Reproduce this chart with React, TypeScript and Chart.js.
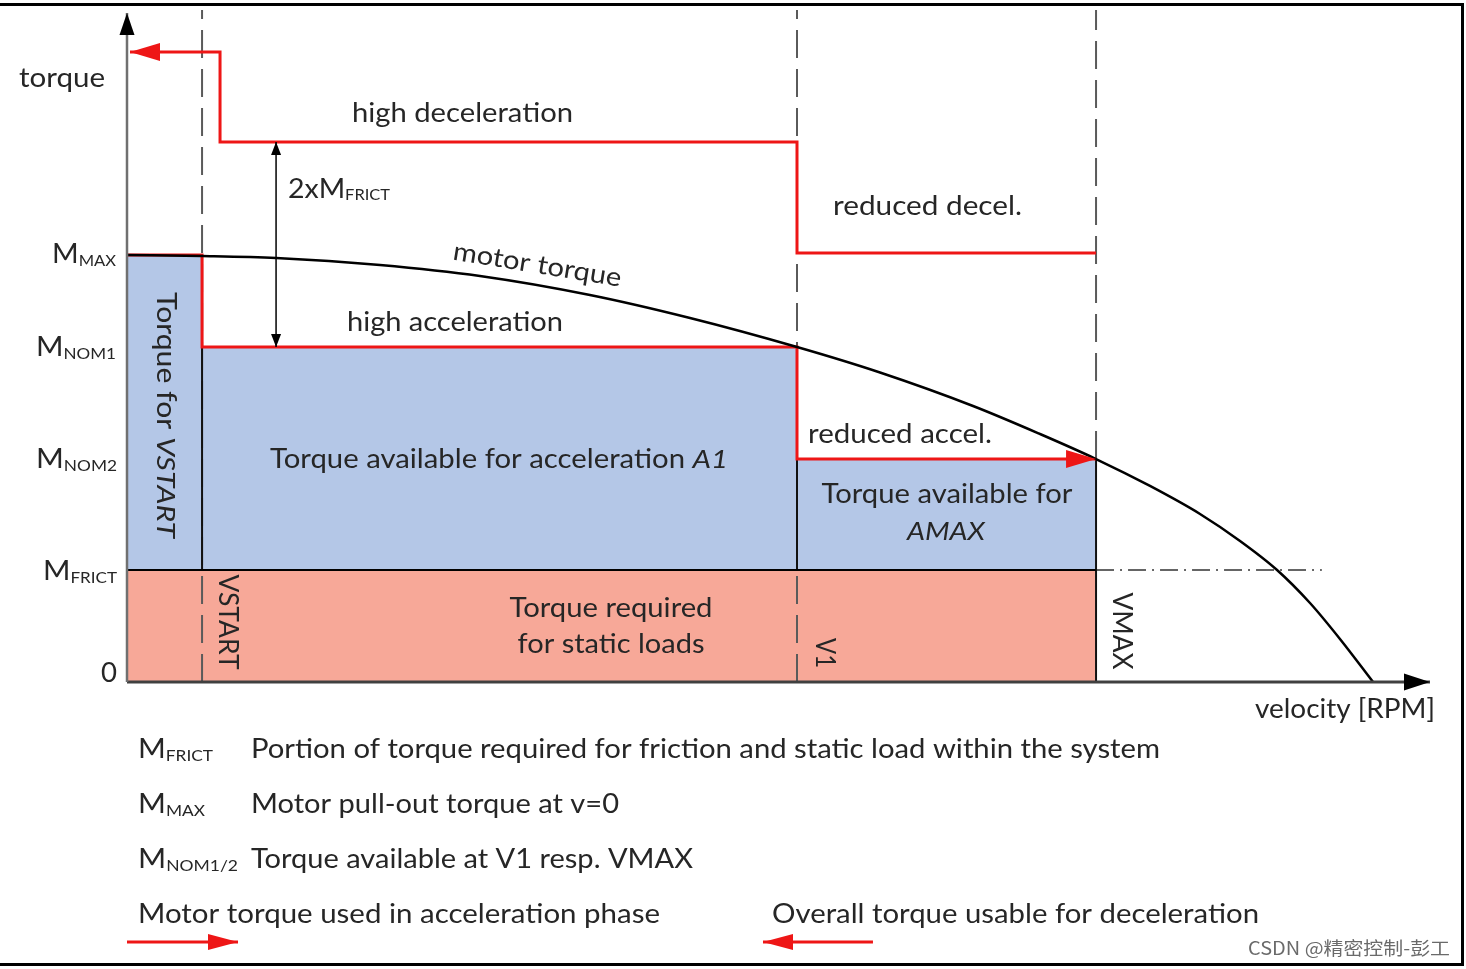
import React, { useEffect, useRef } from "react";
import { Chart, registerables } from "chart.js";

Chart.register(...registerables);

// ---------- data (velocity axis 0..100, torque axis 0..100) ----------
const VSTART = 5.76;
const V1 = 51.42;
const VMAX = 74.37;
const X_AXIS_END = 100;
const Y_AXIS_END = 100.3;
const DASH_TOP = 100.75;
const X_DECEL_STEP = 7.14;
const X_DECEL_TIP = 0.23;
const X_DOUBLE_ARROW = 11.44;
const X_DASHDOT_END = 91.7;

const M_FRICT = 16.8;
const M_NOM2 = 33.43;
const M_NOM1 = 50.22;
const M_MAX = 64.02;
const M_DECEL_HIGH = 80.96;
const M_DECEL_REDUCED = 64.3;
const M_DECEL_TOP = 94.45;

// motor torque curve
const curveVelocity = [0, 5.76, 11.44, 19.42, 27.09, 35.53, 43.21, 51.42, 57.79, 64.93, 70.07, 74.37, 78.51, 82.35, 85.42, 88.26, 90.79, 93.09, 95.63];
const curveTorque = [64.02, 63.87, 63.57, 62.52, 60.87, 58.02, 54.57, 50.22, 46.4, 41.38, 37.18, 33.43, 29.39, 25.19, 21.14, 16.79, 11.84, 6.45, 0];

// legend arrows (below the axis)
const LEGEND_Y = -38.98;
const legendAccelX = [0, 8.52];
const legendDecelX = [57.25, 48.81];

// ---------- styles ----------
const FONT = "Lato, 'DejaVu Sans', sans-serif";
const TEXT_COLOR = "#262626";
const RED = "#EE1616";
const BLUE = "#B4C7E7";
const PINK = "#F7A898";
const DASH_GRAY = "#5a5a5a";

type Pt = { x: number; y: number };
const pts = (xs: number[], ys: number[]): Pt[] => xs.map((x, i) => ({ x, y: ys[i] }));

type Run = { t: string; size?: number; italic?: boolean; dy?: number; family?: string };
type TextItem = {
  runs: Run[];
  x: number;
  y: number;
  align?: "left" | "center" | "right";
  width?: number;
  rotate?: number;
  color?: string;
};

const sub = (t: string, dy = 3): Run => ({ t, size: 15, dy });
const DEG = Math.PI / 180;

const TEXTS: TextItem[] = [
  { runs: [{ t: "torque" }], x: 19, y: 87, width: 86 },
  { runs: [{ t: "M" }, sub("MAX")], x: 116, y: 263, align: "right", width: 64 },
  { runs: [{ t: "M" }, sub("NOM1")], x: 116, y: 356, align: "right", width: 80 },
  { runs: [{ t: "M" }, sub("NOM2")], x: 117, y: 468, align: "right", width: 81 },
  { runs: [{ t: "M" }, sub("FRICT")], x: 117, y: 580, align: "right", width: 74 },
  { runs: [{ t: "0" }], x: 117, y: 682, align: "right", width: 16 },
  { runs: [{ t: "high deceleration" }], x: 352, y: 122, width: 221 },
  { runs: [{ t: "2xM" }, sub("FRICT", 2)], x: 288, y: 198, width: 102 },
  { runs: [{ t: "reduced decel." }], x: 833, y: 215, width: 189 },
  { runs: [{ t: "motor torque" }], x: 536, y: 273, align: "center", width: 170, rotate: 9.2 * DEG },
  { runs: [{ t: "high acceleration" }], x: 347, y: 331, width: 216 },
  { runs: [{ t: "Torque for " }, { t: "VSTART", italic: true }], x: 157, y: 415, align: "center", width: 246, rotate: 90 * DEG },
  { runs: [{ t: "Torque available for acceleration " }, { t: "A1", italic: true }], x: 270, y: 468, width: 458 },
  { runs: [{ t: "reduced accel." }], x: 808, y: 443, width: 184 },
  { runs: [{ t: "Torque available for" }], x: 947, y: 503, align: "center", width: 251 },
  { runs: [{ t: "AMAX", italic: true }], x: 946, y: 540, align: "center", width: 78 },
  { runs: [{ t: "VSTART" }], x: 219, y: 622, align: "center", width: 95, rotate: 90 * DEG },
  { runs: [{ t: "Torque required" }], x: 611, y: 617, align: "center", width: 203 },
  { runs: [{ t: "for static loads" }], x: 611, y: 653, align: "center", width: 187 },
  { runs: [{ t: "V1" }], x: 816, y: 653, align: "center", width: 30, rotate: 90 * DEG },
  { runs: [{ t: "VMAX" }], x: 1113, y: 631, align: "center", width: 77, rotate: 90 * DEG },
  { runs: [{ t: "velocity [RPM]" }], x: 1255, y: 718, width: 180 },
  { runs: [{ t: "M" }, sub("FRICT")], x: 138, y: 758, width: 75 },
  { runs: [{ t: "Portion of torque required for friction and static load within the system" }], x: 251, y: 758, width: 909 },
  { runs: [{ t: "M" }, sub("MAX")], x: 138, y: 813, width: 67 },
  { runs: [{ t: "Motor pull-out torque at v=0" }], x: 251, y: 813, width: 368 },
  { runs: [{ t: "M" }, sub("NOM1/2")], x: 138, y: 868, width: 100 },
  { runs: [{ t: "Torque available at V1 resp. VMAX" }], x: 251, y: 868, width: 442 },
  { runs: [{ t: "Motor torque used in acceleration phase" }], x: 138, y: 923, width: 522 },
  { runs: [{ t: "Overall torque usable for deceleration" }], x: 772, y: 923, width: 487 },
  {
    runs: [{ t: "CSDN @精密控制-彭工", size: 18, family: "'Noto Sans CJK SC', sans-serif" }],
    x: 1248, y: 955, width: 202, color: "#6a6a6a",
  },
];

type Head = { x: number; y: number; dir: "up" | "down" | "left" | "right"; len: number; w: number; color: string };
const HEADS: Head[] = [
  { x: 0, y: Y_AXIS_END, dir: "up", len: 22, w: 15, color: "#000" },
  { x: X_AXIS_END, y: 0, dir: "right", len: 26, w: 17, color: "#000" },
  { x: X_DECEL_TIP, y: M_DECEL_TOP, dir: "left", len: 30, w: 18, color: RED },
  { x: VMAX, y: M_NOM2, dir: "right", len: 30, w: 18, color: RED },
  { x: X_DOUBLE_ARROW, y: M_DECEL_HIGH, dir: "up", len: 13, w: 10, color: "#000" },
  { x: X_DOUBLE_ARROW, y: M_NOM1, dir: "down", len: 13, w: 10, color: "#000" },
  { x: legendAccelX[1], y: LEGEND_Y, dir: "right", len: 30, w: 16, color: RED },
  { x: legendDecelX[1], y: LEGEND_Y, dir: "left", len: 30, w: 16, color: RED },
];

function fontOf(r: Run) {
  return `${r.italic ? "italic " : ""}${r.size ?? 26}px ${r.family ?? FONT}`;
}

function drawText(ctx: CanvasRenderingContext2D, item: TextItem) {
  ctx.save();
  ctx.textBaseline = "alphabetic";
  ctx.textAlign = "left";
  let total = 0;
  const widths = item.runs.map((r) => {
    ctx.font = fontOf(r);
    const w = ctx.measureText(r.t).width;
    total += w;
    return w;
  });
  const sx = item.width ? item.width / total : 1;
  ctx.translate(item.x, item.y);
  if (item.rotate) ctx.rotate(item.rotate);
  ctx.scale(sx, 1);
  let cx = item.align === "center" ? -total / 2 : item.align === "right" ? -total : 0;
  ctx.fillStyle = item.color ?? TEXT_COLOR;
  item.runs.forEach((r, i) => {
    ctx.font = fontOf(r);
    ctx.fillText(r.t, cx, r.dy ?? 0);
    cx += widths[i];
  });
  ctx.restore();
}

const overlayPlugin = {
  id: "overlay",
  afterDatasetsDraw(chart: any) {
    const ctx: CanvasRenderingContext2D = chart.ctx;
    const xs = chart.scales.x;
    const ys = chart.scales.y;
    // arrow heads
    HEADS.forEach((h) => {
      const px = xs.getPixelForValue(h.x);
      const py = ys.getPixelForValue(h.y);
      ctx.save();
      ctx.fillStyle = h.color;
      ctx.beginPath();
      ctx.moveTo(px, py);
      if (h.dir === "up") {
        ctx.lineTo(px - h.w / 2, py + h.len);
        ctx.lineTo(px + h.w / 2, py + h.len);
      } else if (h.dir === "down") {
        ctx.lineTo(px - h.w / 2, py - h.len);
        ctx.lineTo(px + h.w / 2, py - h.len);
      } else if (h.dir === "left") {
        ctx.lineTo(px + h.len, py - h.w / 2);
        ctx.lineTo(px + h.len, py + h.w / 2);
      } else {
        ctx.lineTo(px - h.len, py - h.w / 2);
        ctx.lineTo(px - h.len, py + h.w / 2);
      }
      ctx.closePath();
      ctx.fill();
      ctx.restore();
    });
    TEXTS.forEach((t) => drawText(ctx, t));
    // frame
    ctx.save();
    ctx.strokeStyle = "#000";
    ctx.lineWidth = 3;
    ctx.beginPath();
    ctx.moveTo(0, 4.5);
    ctx.lineTo(1462.5, 4.5);
    ctx.lineTo(1462.5, 964.5);
    ctx.lineTo(0, 964.5);
    ctx.stroke();
    ctx.restore();
  },
};

const line = (data: Pt[], color: string, width: number, order: number, extra: any = {}) => ({
  data,
  showLine: true,
  borderColor: color,
  borderWidth: width,
  pointRadius: 0,
  tension: 0,
  fill: false,
  order,
  clip: false,
  ...extra,
});

export default function App() {
  const ref = useRef<HTMLCanvasElement | null>(null);

  useEffect(() => {
    if (!ref.current) return;
    const datasets: any[] = [
      // static load area
      line(pts([0, VMAX], [M_FRICT, M_FRICT]), "#000", 2, 100, { fill: "origin", backgroundColor: PINK }),
      // torque available for acceleration
      line(
        pts([0, VSTART, VSTART, V1, V1, VMAX], [M_MAX, M_MAX, M_NOM1, M_NOM1, M_NOM2, M_NOM2]),
        "rgba(0,0,0,0)", 0, 99, { fill: { value: M_FRICT }, backgroundColor: BLUE }
      ),
      // dashed velocity markers
      line(pts([VSTART, VSTART], [0, DASH_TOP]), DASH_GRAY, 2, 90, { borderDash: [28, 11] }),
      line(pts([V1, V1], [0, DASH_TOP]), DASH_GRAY, 2, 90, { borderDash: [28, 11] }),
      line(pts([VMAX, VMAX], [M_NOM2, DASH_TOP]), DASH_GRAY, 2, 90, { borderDash: [28, 11] }),
      // solid markers
      line(pts([VSTART, VSTART], [M_FRICT, M_MAX]), "#111", 2, 80),
      line(pts([V1, V1], [M_FRICT, M_NOM1]), "#111", 2, 80),
      line(pts([VMAX, VMAX], [0, M_NOM2]), "#111", 2, 80),
      line(pts([0, VMAX], [M_FRICT, M_FRICT]), "#000", 2, 79),
      // dash-dot continuation of friction level
      line(pts([VMAX, X_DASHDOT_END], [M_FRICT, M_FRICT]), "#333", 1.5, 80, { borderDash: [18, 6, 2, 6] }),
      // acceleration torque (red)
      line(
        pts([0, VSTART, VSTART, V1, V1, VMAX], [M_MAX, M_MAX, M_NOM1, M_NOM1, M_NOM2, M_NOM2]),
        RED, 3, 60
      ),
      // deceleration torque (red)
      line(
        pts(
          [VMAX, V1, V1, X_DECEL_STEP, X_DECEL_STEP, X_DECEL_TIP],
          [M_DECEL_REDUCED, M_DECEL_REDUCED, M_DECEL_HIGH, M_DECEL_HIGH, M_DECEL_TOP, M_DECEL_TOP]
        ),
        RED, 3, 60
      ),
      // motor torque curve
      line(pts(curveVelocity, curveTorque), "#000", 2.5, 50, { cubicInterpolationMode: "monotone" }),
      // 2xMFRICT double arrow
      line(pts([X_DOUBLE_ARROW, X_DOUBLE_ARROW], [M_NOM1, M_DECEL_HIGH]), "#000", 1.5, 50),
      // axes
      line(pts([0, 0], [0, Y_AXIS_END]), "#707070", 2.5, 40),
      line(pts([0, X_AXIS_END], [0, 0]), "#404040", 3, 40),
      // legend arrows
      line(pts(legendAccelX, [LEGEND_Y, LEGEND_Y]), RED, 3, 40),
      line(pts(legendDecelX, [LEGEND_Y, LEGEND_Y]), RED, 3, 40),
    ];

    const chart = new Chart(ref.current, {
      type: "scatter",
      data: { datasets },
      options: {
        responsive: false,
        animation: false,
        devicePixelRatio: 1,
        events: [],
        layout: { padding: { left: 127, right: 36, top: 15, bottom: 287 } },
        scales: {
          x: { type: "linear", min: 0, max: 100, display: false },
          y: { type: "linear", min: 0, max: 100, display: false },
        },
        plugins: {
          legend: { display: false },
          tooltip: { enabled: false },
          title: { display: false },
        },
      },
      plugins: [overlayPlugin],
    });
    return () => chart.destroy();
  }, []);

  return (
    <div style={{ position: "fixed", left: 0, top: 0, width: 1466, height: 969, background: "#fff" }}>
      <canvas ref={ref} width={1466} height={969} style={{ display: "block" }} />
    </div>
  );
}
